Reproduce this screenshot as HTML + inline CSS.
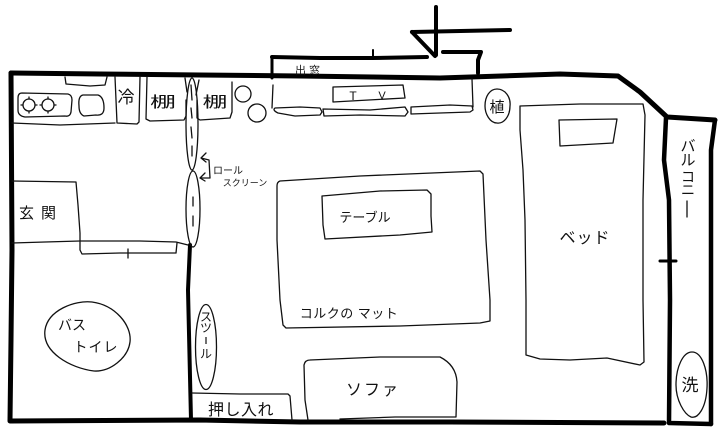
<!DOCTYPE html>
<html>
<head>
<meta charset="utf-8">
<style>
html,body{margin:0;padding:0;background:#fff}
svg{display:block}
text{font-family:"Liberation Sans","Noto Sans CJK JP",sans-serif;fill:#111;text-anchor:middle}
</style>
</head>
<body>
<svg width="720" height="430" viewBox="0 0 720 430" xmlns="http://www.w3.org/2000/svg">
<rect width="720" height="430" fill="#fff"/>

<!-- thick walls -->
<g fill="none" stroke="#000" stroke-linecap="round" stroke-linejoin="round">
<path stroke-width="5" d="M11 73 L100 74 L200 75 L300 76 L440 78 L560 74 L618 76 L640 92 L667 117 L715 120"/>
<path stroke-width="5" d="M11 73 L12 250 L11 340 L10 421 L200 420 L300 422 L450 422 L664 423"/>
<path stroke-width="4.5" d="M666 118 L664 160 L669 200 L670 300 L669 423 L711 424"/>
<path stroke-width="4.5" d="M715 120 L711 150 L711 300 L711 424"/>
<path stroke-width="3" d="M660 261 L676 261"/>
<path stroke-width="4" d="M190 245 L188 290 L191 420"/>
<path stroke-width="4" d="M272 57 L320 58 L372 58 L427 57"/>
<path stroke-width="3" d="M272 57 L272 78"/>
<path stroke-width="2" d="M373 50 L373 57"/>
<path stroke-width="4" d="M436 7 L436 55"/>
<path stroke-width="4" d="M412 32 L510 30"/>
<path stroke-width="4" d="M412 32 L435 56"/>
<path stroke-width="4" d="M443 52 L481 52 L478 60 L478 73"/>
</g>

<!-- thin lines -->
<g fill="none" stroke="#111" stroke-width="1.3" stroke-linecap="round" stroke-linejoin="round">
<!-- kitchen -->
<path d="M12 123 L60 125 L115 123"/>
<path d="M65 77 L66 84 L90 86 L105 85 L107 77"/>
<path d="M115 77 L117 123 L137 124 L139 122 L140 77"/>
<path d="M147 77 L146 119 L150 121 L184 120 L186 116 L186 100"/>
<path d="M197 100 L197 118 L200 120 L230 118 L232 112 L232 82"/>
<path d="M22 93 L68 94 Q72 95 72 100 L71 112 Q70 117 65 116 L25 117 Q18 116 18 110 L18 98 Q18 93 22 93Z"/>
<circle cx="29" cy="105" r="6"/>
<circle cx="48" cy="105" r="6"/>
<path d="M29 97 V99 M29 111 V113 M21 105 H23 M35 105 H37 M48 97 V99 M48 111 V113 M40 105 H42 M54 105 H56"/>
<path d="M83 95 L98 95 Q104 97 104 108 Q104 116 96 115 L84 116 Q79 114 79 106 Q78 96 83 95Z"/>
<circle cx="243" cy="94" r="8"/>
<circle cx="257" cy="113" r="9"/>

<!-- roll screens -->
<path d="M185 78 L187 92"/>
<path d="M199 80 L196 95"/>
<ellipse cx="192" cy="124" rx="6" ry="46"/>
<ellipse cx="193" cy="209" rx="7" ry="38"/>
<path d="M191 85 L192 100 M191 108 L192 118 M191 127 L192 138 M192 146 L192 156 M193 197 L193 206 M193 216 L193 226"/>
<path d="M201 158 L209 160 L210 178 L200 178 M206 153 L201 158 L206 162 M205 173 L200 178 L205 181"/>

<!-- genkan -->
<path d="M12 181 L76 182 L78 205 L80 233 L80 241"/>
<path d="M12 243 L45 242 L80 241 L140 241 L176 242 L188 245"/>
<path d="M80 241 L80 250 L82 254 L120 253 L176 253 L177 243"/>
<path d="M128 249 L128 258"/>

<!-- bath -->
<path d="M45 330 C48 310 75 300 92 302 C115 305 132 325 130 342 C128 358 110 372 94 371 C70 368 42 352 45 330Z"/>

<!-- stool -->
<ellipse cx="206" cy="347" rx="10.5" ry="42.5"/>
<!-- oshiire -->
<path d="M192 393 L240 394 L288 394 L290 396 L292 420"/>

<!-- tv area -->
<path d="M273 85 L272 108"/>
<path d="M472 79 L473 107"/>
<path d="M333 87 L403 85 L405 98 L333 102 Z"/>
<path d="M275 108 L300 107 L320 108 L322 112 L320 115 L295 116 L278 113 Q272 110 275 108Z"/>
<path d="M323 109 L370 110 L405 107 L408 112 L405 116 L360 115 L324 116 Z"/>
<path d="M411 107 L450 105 L472 106 L473 110 L470 112 L440 113 L411 114 Z"/>

<!-- plant -->
<path d="M497 89 C505 89 511 97 510 106 C510 116 504 124 497 123 C490 123 485 114 485 106 C485 96 490 89 497 89Z"/>

<!-- mat, table -->
<path d="M280 181 L360 176 L480 171 L483 174 L486 240 L490 300 L490 321 L480 323 L400 326 L286 328 L283 325 L280 300 L277 240 L277 186 Q277 182 280 181Z"/>
<path d="M322 196 L380 191 L427 190 L431 194 L431 216 L432 232 L400 235 L325 239 L323 225 Z"/>

<!-- sofa -->
<path d="M308 420 L305 400 L304 365 Q305 360 310 360 L380 357 L440 357 Q456 365 457 382 L456 417 L395 417 L340 419"/>

<!-- bed -->
<path d="M520 106 L580 104 L643 104 L645 115 L643 200 L643 300 L644 362 L640 365 L607 358 L570 360 L540 359 L526 355 L526 300 L525 220 L523 170 L520 130 Z"/>
<path d="M559 120 L617 119 L613 143 L560 146 Z"/>

<!-- washer -->
<path d="M692 352 C702 352 708 370 707 388 C706 408 698 419 691 417 C684 414 676 400 676 385 C676 367 683 352 692 352Z"/>
<path d="M687 201 L687 217"/>
</g>

<!-- labels -->
<text x="126" y="103" font-size="17">冷</text>
<text x="163" y="107" font-size="15" textLength="26" lengthAdjust="spacingAndGlyphs">棚</text>
<text x="215" y="107" font-size="15" textLength="25" lengthAdjust="spacingAndGlyphs">棚</text>
<text x="228" y="174" font-size="10">ロール</text>
<text x="245" y="186" font-size="9">スクリーン</text>
<text x="41" y="218" font-size="15" letter-spacing="7">玄関</text>
<text x="72" y="330" font-size="14">バス</text>
<text x="96" y="352" font-size="14" letter-spacing="1">トイレ</text>
<text x="206" y="321" font-size="12">ス</text>
<text x="206" y="332" font-size="12">ツ</text>
<path d="M206 337 V344" stroke="#111" stroke-width="1.2"/>
<text x="206" y="358" font-size="12">ル</text>
<text x="241" y="415" font-size="16" letter-spacing="0.5">押し入れ</text>
<text x="309" y="74" font-size="11" letter-spacing="3">出窓</text>
<text x="353" y="100" font-size="12">T</text>
<text x="382" y="99" font-size="11">V</text>
<text x="497" y="112" font-size="15">植</text>
<text x="365" y="222" font-size="13">テーブル</text>
<text x="349" y="318" font-size="13" letter-spacing="0.5">コルクの マット</text>
<text x="373" y="395" font-size="16" letter-spacing="2">ソファ</text>
<text x="585" y="243" font-size="16" letter-spacing="1">ベッド</text>
<text x="688" y="151" font-size="15">バ</text>
<text x="688" y="165" font-size="15">ル</text>
<text x="688" y="182" font-size="14">コ</text>
<text x="688" y="195" font-size="14">ニ</text>
<text x="690" y="391" font-size="17">洗</text>
</svg>
</body>
</html>
